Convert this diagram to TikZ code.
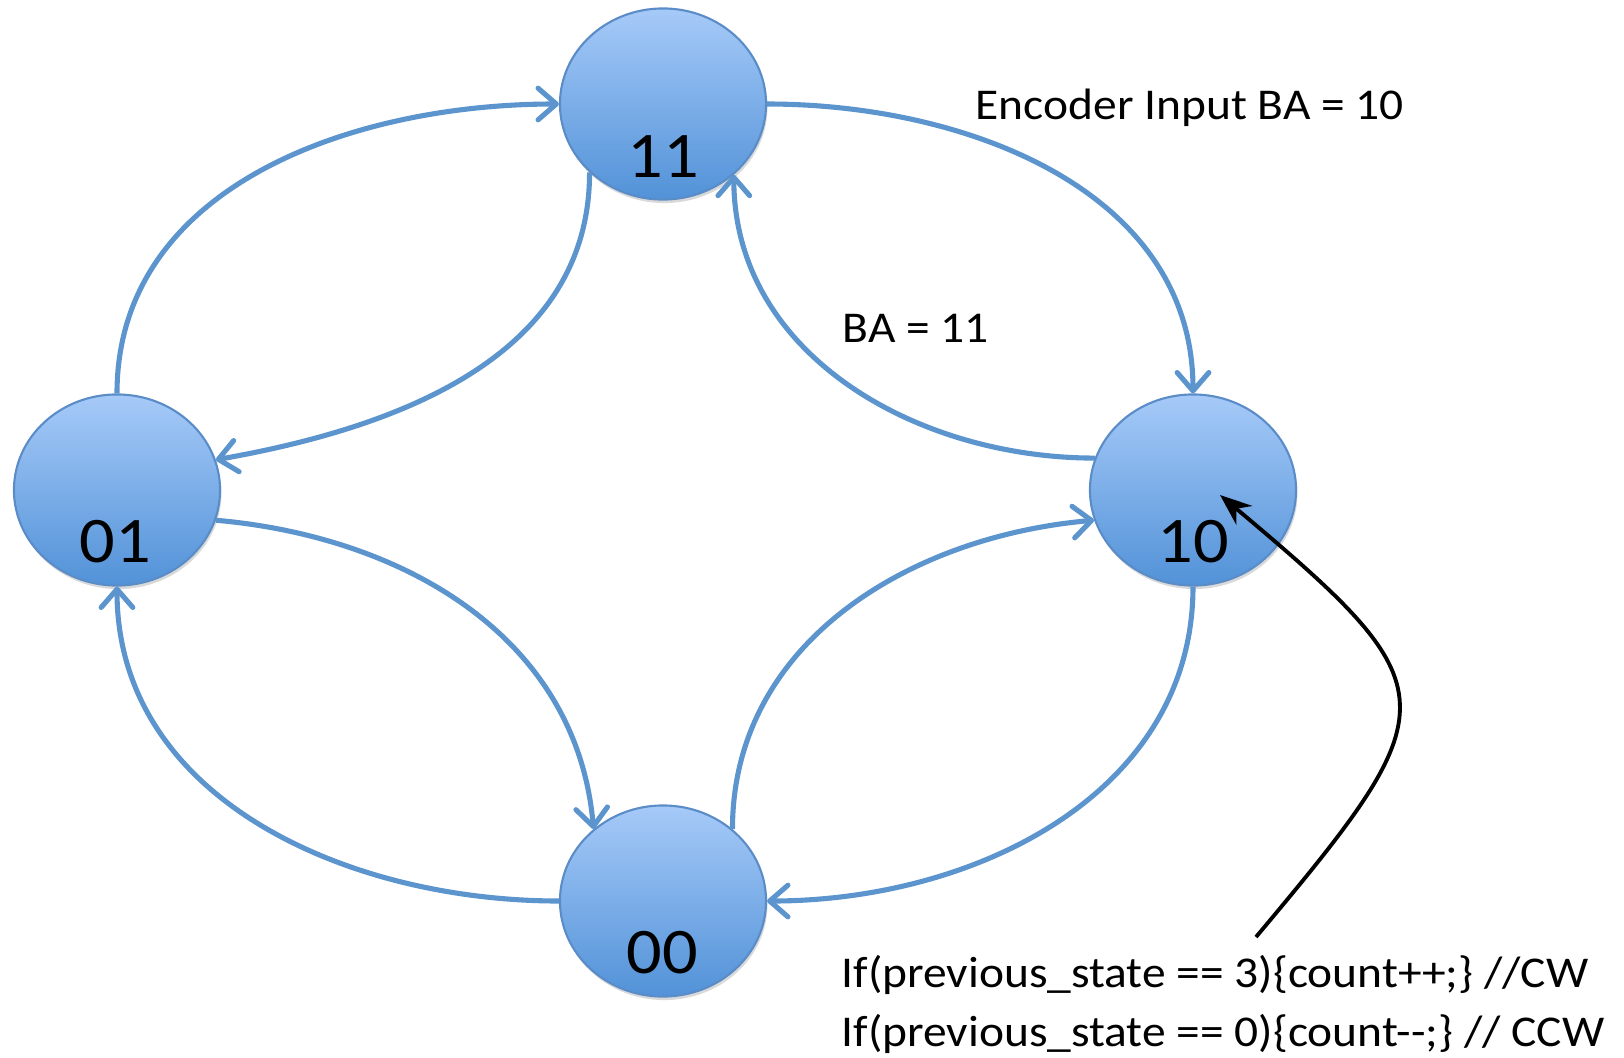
\documentclass[tikz,border=0pt]{standalone}
\usepackage{fontspec}
\setmainfont{Carlito}
\usetikzlibrary{arrows.meta,shapes.geometric,shadows}
\definecolor{nodetop}{RGB}{166,202,248}
\definecolor{nodebot}{RGB}{82,146,216}
\definecolor{nodeline}{RGB}{90,140,200}
\definecolor{edgeblue}{RGB}{92,148,206}
\newcommand{\sxt}[1]{\scalebox{1.08}[1]{#1}}
\begin{document}
\begin{tikzpicture}[x=0.01cm,y=0.01cm,
  state/.style={ellipse, minimum width=2.06cm, minimum height=1.91cm, inner sep=0pt,
    draw=nodeline, line width=0.6pt, top color=nodetop, bottom color=nodebot,
    drop shadow={shadow xshift=0.4pt, shadow yshift=-1pt, opacity=0.25, fill=black!60}},
  stlabel/.style={anchor=base, inner sep=0pt, font=\fontsize{18.5}{22}\selectfont},
  txt/.style={anchor=base west, inner sep=0pt, font=\fontsize{12.5}{15}\selectfont},
  trans/.style={draw=edgeblue, line width=1.45pt, -{Straight Barb[length=5.2pt,width=9pt,round]}},
  pointer/.style={draw=black, line width=1.1pt, -{Stealth[length=9pt,width=7pt]}}]
\useasboundingbox (0,0) rectangle (1624,-1057);

\node[state] (n11) at (663,-104) {};
\node[state] (n10) at (1193,-490) {};
\node[state] (n01) at (117,-490) {};
\node[state] (n00) at (663,-901) {};

\node[stlabel] (l11) at (663,-177) {\sxt{11}};
\node[stlabel] (l10) at (1193,-562) {\sxt{10}};
\node[stlabel] (l01) at (115,-562) {\sxt{01}};
\node[stlabel] (l00) at (662,-973) {\sxt{00}};

\draw[trans] (n01.90) to[out=90,in=180] (n11.180);
\draw[trans] (n11.0) to[out=0,in=90] (n10.90);
\draw[trans] (n10.162) to[out=180,in=-90] (n11.-45);
\draw[trans] (n11.223) to[out=-90,in=10] (n01.17);
\draw[trans] (n01.-17) to[out=-5,in=95] (n00.134);
\draw[trans] (n00.46) to[out=90,in=185] (n10.-163);
\draw[trans] (n10.-90) to[out=-90,in=0] (n00.0);
\draw[trans] (n00.180) to[out=180,in=-90] (n01.-90);

\node[txt] (enc) at (975,-119) {\sxt{Encoder Input BA = 10}};
\node[txt] (ba) at (842,-342) {\sxt{BA = 11}};
\node[txt] (code1) at (841,-987) {\sxt{If(previous\_state == 3)\{count++;\} //CW}};
\node[txt] (code2) at (841,-1046) {\sxt{If(previous\_state == 0)\{count-{}-;\} // CCW}};

\coordinate (ptrstart) at (1256,-937);
\coordinate (ptrend) at (1220,-495);
\draw[pointer] (ptrstart) to[out=50,in=-40,looseness=1.75] (ptrend);
\end{tikzpicture}
\end{document}
